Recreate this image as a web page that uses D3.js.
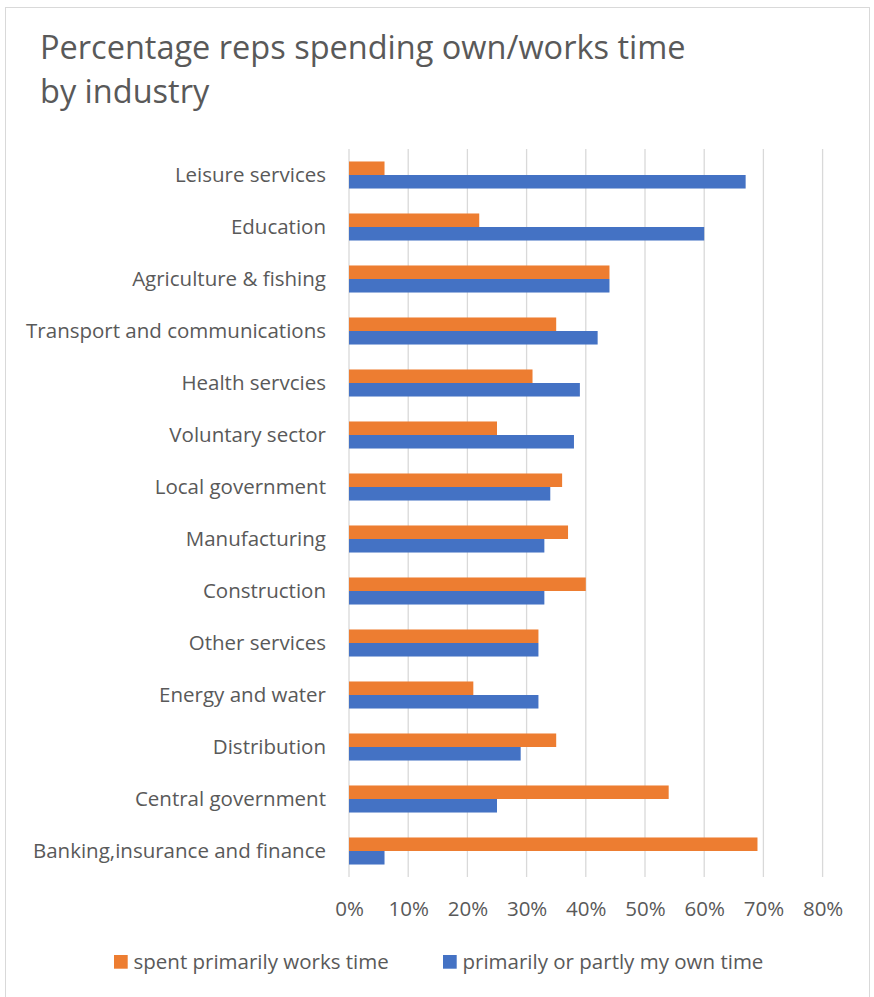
<!DOCTYPE html>
<html>
<head>
<meta charset="utf-8">
<script src="https://cdn.jsdelivr.net/npm/d3@7"></script>
<style>
  html, body { margin: 0; padding: 0; background: #fff; }
  svg { display: block; }
  text { font-family: "Open Sans", "Noto Sans", sans-serif; fill: #595959; }
</style>
</head>
<body>
<svg id="chart" width="874" height="997"></svg>
<script>
const categories = [
  "Leisure services",
  "Education",
  "Agriculture & fishing",
  "Transport and communications",
  "Health servcies",
  "Voluntary sector",
  "Local government",
  "Manufacturing",
  "Construction",
  "Other services",
  "Energy and water",
  "Distribution",
  "Central government",
  "Banking,insurance and finance"
];
const seriesNames = ["spent primarily works time", "primarily or partly my own time"];
const worksTime = [6, 22, 44, 35, 31, 25, 36, 37, 40, 32, 21, 35, 54, 69];
const ownTime   = [67, 60, 44, 42, 39, 38, 34, 33, 33, 32, 32, 29, 25, 6];
const xTicks = [0, 10, 20, 30, 40, 50, 60, 70, 80];
const titleLines = ["Percentage reps spending own/works time", "by industry"];
const colors = ["#ED7D31", "#4472C4"];

const svg = d3.select("#chart");
const fs = 20.5;

// chart border
svg.append("rect")
  .attr("x", 5.5).attr("y", 7.5)
  .attr("width", 864).attr("height", 1000)
  .attr("fill", "none").attr("stroke", "#d9d9d9").attr("stroke-width", 1);

// title
svg.append("text")
  .attr("x", 40).attr("y", 59)
  .attr("font-size", 32.5)
  .selectAll("tspan").data(titleLines).join("tspan")
  .attr("x", 40).attr("dy", (d, i) => i === 0 ? 0 : 44)
  .text(d => d);

const plot = { left: 349, right: 822.6, top: 149, bottom: 877 };

const x = d3.scaleLinear().domain([0, 80]).range([plot.left, plot.right]);
const y = d3.scaleBand().domain(categories).range([plot.top, plot.bottom])
  .paddingInner(0.48).paddingOuter(0.24);
const ySub = d3.scaleBand().domain([0, 1]).range([0, y.bandwidth()]);

// gridlines
svg.append("g").selectAll("line").data(xTicks).join("line")
  .attr("x1", d => x(d)).attr("x2", d => x(d))
  .attr("y1", plot.top).attr("y2", plot.bottom)
  .attr("stroke", "#d9d9d9").attr("stroke-width", 1.3);

// x-axis labels via axis generator
const xAxis = d3.axisBottom(x).tickValues(xTicks).tickFormat(d => d + "%").tickSize(0).tickPadding(0);
const gx = svg.append("g").attr("transform", `translate(0, ${plot.bottom})`).call(xAxis);
gx.select(".domain").remove();
gx.selectAll("text")
  .attr("font-size", fs).attr("font-family", null).attr("fill", "#595959")
  .attr("dy", null).attr("y", 39);

// y-axis labels
const yAxis = d3.axisLeft(y).tickSize(0).tickPadding(23);
const gy = svg.append("g").attr("transform", `translate(${plot.left}, 0)`).call(yAxis);
gy.select(".domain").remove();
gy.selectAll("text")
  .attr("font-size", fs).attr("font-family", null).attr("fill", "#595959")
  .attr("dy", "0.36em");

// bars
const series = [worksTime, ownTime];
series.forEach((vals, si) => {
  svg.append("g").selectAll("rect").data(categories).join("rect")
    .attr("x", x(0))
    .attr("y", (c) => y(c) + ySub(si))
    .attr("width", (c, i) => x(vals[i]) - x(0))
    .attr("height", ySub.bandwidth())
    .attr("fill", colors[si]);
});

// legend
const legendItems = [{ name: seriesNames[0], x: 114 }, { name: seriesNames[1], x: 443 }];
const lg = svg.append("g").selectAll("g").data(legendItems).join("g")
  .attr("transform", (d) => `translate(${d.x}, 955)`);
lg.append("rect").attr("width", 13.7).attr("height", 13.7).attr("fill", (d, i) => colors[i]);
lg.append("text").attr("x", 19.5).attr("y", 13.5).attr("font-size", fs).text(d => d.name);
</script>
</body>
</html>
